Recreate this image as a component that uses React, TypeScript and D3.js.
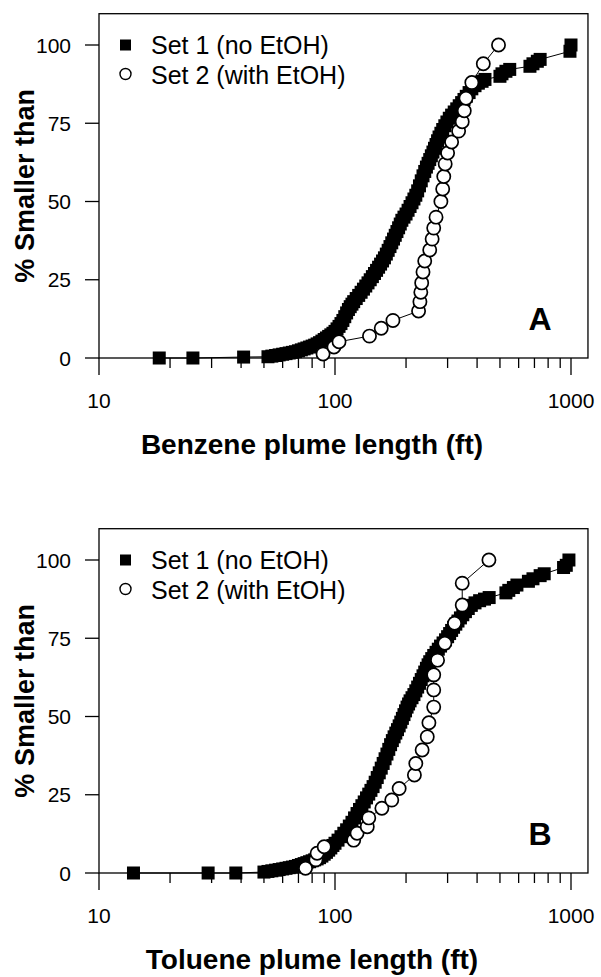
import React from "react";
import * as d3 from "d3";

// ---------- data ----------
const xTickLabels = [10, 100, 1000];
const yTickValues = [0, 25, 50, 75, 100];

const benzeneSet1: [number, number][] = [
  [18, 0], [25, 0], [41, 0.3], [52, 0.4], [54, 0.6], [56, 0.8], [58, 1.0], [60, 1.2], [62, 1.4], [64, 1.6],
  [66, 1.8], [68, 2.0], [70, 2.3], [72, 2.6], [74, 2.9], [76, 3.2], [78, 3.5], [80, 3.8], [82, 4.1], [84, 4.5],
  [86, 4.9], [88, 5.4], [90, 5.9], [92, 6.4], [94, 6.9], [96, 7.4], [98, 7.9], [100, 8.5], [102, 9.3], [104, 10.1],
  [106, 11.0], [108, 12.0], [110, 13.2], [112, 14.4], [114, 15.5], [116, 16.4], [118, 17.2], [120, 18.0], [123, 19.0],
  [126, 20.0], [129, 21.0], [132, 22.0], [135, 23.0], [138, 24.0], [141, 25.0], [144, 26.0], [147, 27.0], [150, 28.0],
  [153, 29.0], [156, 30.0], [159, 31.0], [162, 32.0], [165, 33.2], [168, 34.4], [171, 35.6], [174, 36.8], [177, 38.0],
  [180, 39.2], [183, 40.4], [186, 41.6], [189, 42.8], [192, 44.0], [196, 45.0], [200, 46.0], [204, 47.2], [208, 48.4],
  [212, 49.6], [216, 50.8], [220, 52.0], [224, 53.4], [228, 55.0], [232, 56.6], [236, 58.2], [240, 59.6], [244, 61.0],
  [248, 62.2], [252, 63.4], [256, 64.6], [260, 65.8], [264, 67.0], [268, 68.2], [272, 69.4], [276, 70.6], [281, 71.8],
  [286, 73.0], [292, 74.2], [298, 75.4], [305, 76.6], [312, 77.6], [320, 78.6], [328, 79.6], [336, 80.6], [344, 81.6],
  [352, 82.6], [360, 83.6], [370, 84.8], [380, 86.0], [392, 87.0], [405, 87.8], [420, 88.4], [432, 89.0], [500, 90.0],
  [510, 90.8], [530, 91.6], [550, 92.2], [670, 93.2], [690, 94.0], [720, 94.8], [740, 95.4], [990, 98.0], [1000, 100],
];

const benzeneSet2: [number, number][] = [
  [89, 1.3], [99, 3.5], [104, 5.2], [140, 7.0], [157, 9.5], [176, 12.0], [226, 15.0], [229, 18.0], [231, 21.0],
  [233, 24.0], [236, 27.5], [240, 31.0], [252, 34.5], [258, 38.0], [262, 41.5], [268, 45.0], [281, 50.0], [286, 54.0],
  [289, 58.0], [293, 62.0], [300, 65.5], [312, 69.0], [334, 72.5], [346, 75.5], [353, 79.0], [359, 83.0], [380, 88.0],
  [425, 94.0], [493, 100],
];

const tolueneSet1: [number, number][] = [
  [14, 0], [29, 0], [38, 0], [50, 0.3], [52, 0.5], [54, 0.7], [56, 0.9], [58, 1.1], [60, 1.3], [62, 1.5], [64, 1.7],
  [66, 1.9], [68, 2.1], [70, 2.4], [72, 2.7], [74, 3.0], [76, 3.3], [78, 3.6], [80, 3.9], [82, 4.2], [84, 4.5],
  [86, 4.9], [88, 5.4], [90, 6.0], [92, 6.6], [94, 7.3], [96, 8.0], [98, 8.8], [100, 9.5], [103, 10.5], [106, 11.6],
  [109, 12.7], [112, 13.8], [115, 15.0], [118, 16.2], [121, 17.6], [124, 19.0], [127, 20.3], [130, 21.5], [133, 22.7],
  [136, 24.0], [139, 25.2], [142, 26.4], [145, 27.6], [148, 29.0], [151, 30.5], [154, 32.0], [157, 33.5], [160, 35.0],
  [163, 36.5], [166, 38.0], [169, 39.5], [172, 41.0], [175, 42.3], [178, 43.5], [181, 44.7], [184, 45.8], [187, 47.0],
  [190, 48.2], [193, 49.4], [196, 50.6], [199, 51.8], [202, 53.0], [205, 54.0], [208, 55.0], [212, 56.0], [216, 57.0],
  [220, 58.2], [224, 59.4], [228, 60.6], [232, 61.8], [236, 63.0], [240, 64.2], [244, 65.4], [248, 66.5], [252, 67.5],
  [257, 68.5], [262, 69.5], [268, 70.5], [274, 71.5], [280, 72.5], [287, 73.5], [294, 74.5], [300, 75.5], [306, 76.5],
  [312, 77.5], [318, 78.5], [325, 79.5], [332, 80.5], [340, 81.5], [348, 82.5], [357, 83.5], [367, 84.5], [378, 85.5],
  [392, 86.3], [410, 87.0], [430, 87.5], [450, 88.0], [530, 89.5], [545, 90.3], [570, 91.2], [590, 92.0], [660, 93.2],
  [690, 94.0], [740, 95.0], [770, 95.6], [930, 97.6], [955, 98.3], [980, 100],
];

const tolueneSet2: [number, number][] = [
  [75, 1.5], [83, 4.2], [84, 6.3], [90, 8.4], [120, 10.5], [124, 12.7], [137, 14.8], [139, 17.6], [158, 20.7],
  [174, 23.3], [187, 27.0], [217, 31.3], [220, 35.0], [234, 39.3], [246, 43.5], [250, 48.0], [262, 53.0], [262, 58.5],
  [262, 63.3], [272, 68.0], [292, 73.4], [321, 79.8], [346, 85.6], [346, 92.6], [449, 100],
];

const legendLabels = ["Set 1 (no EtOH)", "Set 2 (with EtOH)"];

const panels = [
  { letter: "A", xLabel: "Benzene plume length (ft)", set1: benzeneSet1, set2: benzeneSet2 },
  { letter: "B", xLabel: "Toluene plume length (ft)", set1: tolueneSet1, set2: tolueneSet2 },
];

// ---------- layout ----------
const FONT = "'Liberation Sans', Arial, Helvetica, sans-serif";
const W = 601;
const H = 977;
const PANEL_OFFSET = 515;
const LEFT = 99;
const DECADE = 236;
const TOP = 13.7;
const ZERO = 358;

function Panel({ panel, dy }: { panel: typeof panels[number]; dy: number }) {
  const x = d3
    .scaleLog()
    .domain([10, 1180])
    .range([LEFT, LEFT + DECADE * Math.log10(118)]);
  const y = d3.scaleLinear().domain([0, 110]).range([ZERO, TOP]);
  const line = d3
    .line<[number, number]>()
    .x((d) => x(d[0]))
    .y((d) => y(d[1]));
  const allTicks = x.ticks().filter((t) => t >= 10 && t <= 1000);
  const [x0, x1] = x.range();
  const sq = 13;
  return (
    <g transform={`translate(0,${dy})`}>
      {/* frame */}
      <rect x={x0} y={TOP} width={x1 - x0} height={ZERO - TOP} fill="none" stroke="#000" strokeWidth={1.3} />
      {/* y axis ticks */}
      {yTickValues.map((v) => (
        <g key={v}>
          <line x1={x0 - 14} x2={x0} y1={y(v)} y2={y(v)} stroke="#000" strokeWidth={1.3} />
          <text x={x0 - 28} y={y(v) + 7.5} textAnchor="end" fontSize={21} fontFamily={FONT}>
            {v}
          </text>
        </g>
      ))}
      {/* x axis ticks */}
      {allTicks.map((t) => {
        const major = xTickLabels.includes(t);
        return (
          <line key={t} x1={x(t)} x2={x(t)} y1={ZERO} y2={ZERO + (major ? 17 : 10)} stroke="#000" strokeWidth={1.3} />
        );
      })}
      {xTickLabels.map((t) => (
        <text key={t} x={x(t)} y={408} textAnchor="middle" fontSize={21} fontFamily={FONT}>
          {t}
        </text>
      ))}
      {/* series 1 */}
      <path d={line(panel.set1) || ""} fill="none" stroke="#000" strokeWidth={1} />
      {panel.set1.map((d, i) => (
        <rect key={i} x={x(d[0]) - sq / 2} y={y(d[1]) - sq / 2} width={sq} height={sq} fill="#000" />
      ))}
      {/* series 2 */}
      <path d={line(panel.set2) || ""} fill="none" stroke="#000" strokeWidth={1} />
      {panel.set2.map((d, i) => (
        <circle key={i} cx={x(d[0])} cy={y(d[1])} r={6.6} fill="#fff" stroke="#000" strokeWidth={1.7} />
      ))}
      {/* legend */}
      <rect x={120} y={39.5} width={11} height={11} fill="#000" />
      <text x={151} y={54} fontSize={25} fontFamily={FONT}>
        {legendLabels[0]}
      </text>
      <circle cx={125.5} cy={74} r={5.5} fill="#fff" stroke="#000" strokeWidth={1.4} />
      <text x={151} y={83.5} fontSize={25} fontFamily={FONT}>
        {legendLabels[1]}
      </text>
      {/* panel letter */}
      <text x={540} y={330} textAnchor="middle" fontSize={32} fontWeight="bold" fontFamily={FONT}>
        {panel.letter}
      </text>
      {/* axis titles */}
      <text x={312} y={454} textAnchor="middle" fontSize={28} fontWeight="bold" fontFamily={FONT}>
        {panel.xLabel}
      </text>
      <text
        transform={`translate(34,${(TOP + ZERO) / 2}) rotate(-90)`}
        textAnchor="middle"
        fontSize={27}
        fontWeight="bold"
        fontFamily={FONT}
      >
        % Smaller than
      </text>
    </g>
  );
}

export default function App() {
  return (
    <div style={{ position: "absolute", left: 0, top: 0 }}>
      <svg width={W} height={H} viewBox={`0 0 ${W} ${H}`} style={{ display: "block", background: "#fff" }}>
        <rect width={W} height={H} fill="#fff" />
        {panels.map((p, i) => (
          <Panel key={p.letter} panel={p} dy={i * PANEL_OFFSET} />
        ))}
      </svg>
    </div>
  );
}
